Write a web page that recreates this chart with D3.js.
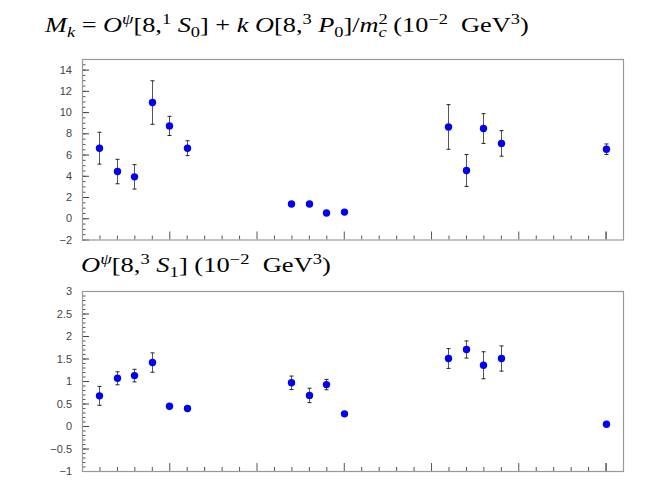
<!DOCTYPE html>
<html><head><meta charset="utf-8">
<script src="https://cdn.jsdelivr.net/npm/d3@7"></script>
<style>body{margin:0;background:#fff}</style>
</head><body>
<svg id="c" width="654" height="491"></svg>
<script>
// ---- data ----
const positions = [1,2,3,4,5,6,12,13,14,15,21,22,23,24,30];
const mkValues  = [6.6,4.4,3.9,10.9,8.7,6.6,1.34,1.34,0.49,0.58,8.6,4.5,8.45,7.05,6.5];
const mkErrors  = [1.5,1.15,1.15,2.05,0.9,0.7,0,0,0,0,2.1,1.5,1.4,1.2,0.5];
const s1Values  = [0.67,1.06,1.12,1.41,0.44,0.39,0.96,0.68,0.92,0.27,1.50,1.70,1.35,1.50,0.04];
const s1Errors  = [0.21,0.145,0.14,0.215,0.04,0.03,0.15,0.16,0.115,0,0.22,0.19,0.30,0.28,0];
const mkTicks   = [-2,0,2,4,6,8,10,12,14];
const s1Ticks   = [-1,-0.5,0,0.5,1,1.5,2,2.5,3];
const mkTitle = [
  ["M","i"],["k","i","sub"],[" = ",""],["O","i"],["ψ","i","sup"],["[8,",""],["1","","sup"],[" ",""],["S","i"],["0","","sub"],["] + ",""],
  ["k","i"],[" ",""],["O","i"],["[8,",""],["3","","sup"],[" ",""],["P","i"],["0","","sub"],["]/",""],["m","i"],["2","","sup"],["c","i","subback"],
  [" (10",""],["−2","","sup"],["  GeV",""],["3","","sup"],[")",""]
];
const s1Title = [
  ["O","i"],["ψ","i","sup"],["[8,",""],["3","","sup"],[" ",""],["S","i"],["1","","sub"],["] (10",""],["−2","","sup"],["  GeV",""],["3","","sup"],[")",""]
];

const svg = d3.select("#c");
const fmt = v => String(v).replace("-", "−");

function title(parts, x, y, fs, width) {
  const t = svg.append("text").attr("x", x).attr("y", y)
    .attr("font-family", "'Liberation Serif','DejaVu Serif',serif").attr("font-size", fs)
    .attr("fill", "#000").style("white-space", "pre");
  let off = 0, lastW = 0;
  parts.forEach(p => {
    const [txt, st, pos] = p;
    let target = 0, size = fs;
    if (pos === "sup") { target = -fs * 0.4; size = fs * 0.7; }
    if (pos === "sub" || pos === "subback") { target = fs * 0.25; size = fs * 0.7; }
    const s = t.append("tspan").text(txt).attr("font-size", size)
      .attr("dy", target - off);
    if (st === "i") s.attr("font-style", "italic");
    if (pos === "subback") s.attr("dx", -lastW);
    off = target;
    lastW = s.node().getComputedTextLength();
  });
  const bb = t.node().getBBox();
  if (bb.width > 0) {
    const k = width / bb.width;
    t.attr("transform", `translate(${x},0) scale(${k},1) translate(${-x},0)`);
  }
}

function panel(top, bottom, domain, ticks, minorStep, values, errors) {
  const x = d3.scaleLinear().domain([0, 31]).range([82, 623]);
  const y = d3.scaleLinear().domain(domain).range([bottom, top]);
  const g = svg.append("g");
  const minors = d3.range(domain[0], domain[1] + 1e-9, minorStep).map(v => +v.toFixed(4));
  g.append("g").attr("transform", `translate(${x(0)},0)`)
    .call(d3.axisLeft(y).tickValues(minors).tickSize(-3.5).tickFormat(""))
    .call(a => a.select(".domain").remove())
    .call(a => a.selectAll("line").attr("stroke", "#555"));
  g.append("g").attr("transform", `translate(${x(0)},0)`)
    .call(d3.axisLeft(y).tickValues(ticks).tickSize(-7).tickPadding(10).tickFormat(fmt))
    .call(a => a.select(".domain").remove())
    .call(a => a.selectAll("line").attr("stroke", "#444"))
    .call(a => a.selectAll("text").attr("font-family", "'Liberation Sans',Arial,sans-serif")
      .attr("font-size", 11).attr("fill", "#444"));
  const xmin = d3.range(1, 31).filter(v => v % 5 !== 0);
  const xmaj = [5, 10, 15, 20, 25, 30];
  g.append("g").attr("transform", `translate(0,${bottom})`)
    .call(d3.axisBottom(x).tickValues(xmin).tickSize(-4).tickFormat(""))
    .call(a => a.select(".domain").remove())
    .call(a => a.selectAll("line").attr("stroke", "#555"));
  g.append("g").attr("transform", `translate(0,${bottom})`)
    .call(d3.axisBottom(x).tickValues(xmaj).tickSize(-8).tickFormat(""))
    .call(a => a.select(".domain").remove())
    .call(a => a.selectAll("line").attr("stroke", d => d === 30 ? "#000" : "#555"));
  g.append("rect").attr("x", x(0) + 0.5).attr("y", top + 0.5)
    .attr("width", x(31) - x(0)).attr("height", bottom - top)
    .attr("fill", "none").attr("stroke", "#999").attr("stroke-width", 1.2);
  const eb = g.append("g").attr("stroke", "#555").attr("stroke-width", 1);
  positions.forEach((p, i) => {
    if (!errors[i]) return;
    const cx = Math.round(x(p)) + 0.5;
    const y1 = y(values[i] + errors[i]), y2 = y(values[i] - errors[i]);
    eb.append("line").attr("x1", cx).attr("x2", cx).attr("y1", y1).attr("y2", y2);
    eb.append("line").attr("x1", cx - 2).attr("x2", cx + 2).attr("y1", y1).attr("y2", y1).attr("stroke", "#222");
    eb.append("line").attr("x1", cx - 2).attr("x2", cx + 2).attr("y1", y2).attr("y2", y2).attr("stroke", "#222");
  });
  g.append("g").selectAll("circle").data(positions).join("circle")
    .attr("cx", d => Math.round(x(d)) + 0.5).attr("cy", (d, i) => y(values[i]))
    .attr("r", 3.7).attr("fill", "#0000ff");
}

title(mkTitle, 45, 32, 21, 485);
title(s1Title, 81, 272, 20, 250);
panel(59, 239.5, [-2, 15], mkTicks, 0.5, mkValues, mkErrors);
panel(291, 471, [-1, 3], s1Ticks, 0.1, s1Values, s1Errors);
</script>
</body></html>
